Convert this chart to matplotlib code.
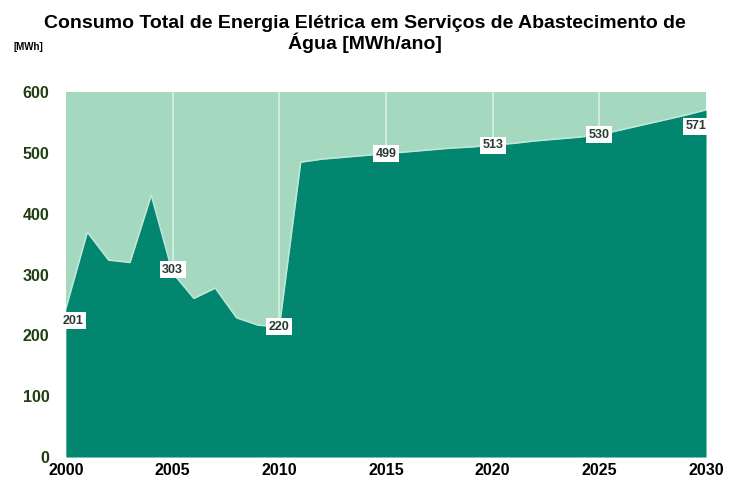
import matplotlib.pyplot as plt
import numpy as np

plt.rcParams['font.family'] = ['Liberation Sans', 'DejaVu Sans']

##########################
years = list(range(2000, 2031))
consumo = [245, 370, 324, 320, 431, 303, 261, 278, 229, 217, 214,
           485, 490, 493, 496, 499, 502, 505, 508, 510, 513,
           516, 520, 523, 526, 530, 538, 546, 554, 562, 571]
label_years = [2000, 2005, 2010, 2015, 2020, 2025, 2030]
label_text = ['201', '303', '220', '499', '513', '530', '571']
label_offset = [(5, -9), (0, 2), (0, 0), (0, 0), (0, 0), (0, 0), (-7, -12)]
xticks = [2000, 2005, 2010, 2015, 2020, 2025, 2030]
yticks = [0, 100, 200, 300, 400, 500, 600]
#########################

dark = '#03866f'
light = '#a4d8bf'

fig = plt.figure(figsize=(7.29, 4.93), dpi=100)
ax = fig.add_axes([0.0905, 0.073, 0.878, 0.74])
ax.set_facecolor(light)
ax.set_xlim(2000, 2030)
ax.set_ylim(0, 600)

for x in xticks[1:-1]:
    ax.axvline(x, color='white', lw=1.2, alpha=0.6, zorder=1)

ax.fill_between(years, consumo, 0, color=dark, zorder=2, lw=0)
ax.plot(years, consumo, color='#bfe6d8', lw=1.2, zorder=3)

for yr, txt, off in zip(label_years, label_text, label_offset):
    v = consumo[years.index(yr)]
    ax.annotate(txt, (yr, v), xytext=off, textcoords='offset points',
                ha='center', va='center', fontsize=9, fontweight='bold',
                color='#2a3a35', zorder=5, annotation_clip=False,
                bbox=dict(boxstyle='square,pad=0.2', fc='white', ec='none'))

for s in ax.spines.values():
    s.set_visible(False)
ax.set_xticks(xticks)
ax.set_yticks(yticks)
ax.tick_params(length=0)
ax.set_xticklabels([str(x) for x in xticks], fontsize=11.5, fontweight='bold', color='black')
ax.set_yticklabels([str(y) for y in yticks], fontsize=11.5, fontweight='bold', color='#1f3d12')
ax.tick_params(axis='x', pad=4)
ax.tick_params(axis='y', pad=12)

fig.text(0.5, 0.97, 'Consumo Total de Energia Elétrica em Serviços de Abastecimento de\nÁgua [MWh/ano]',
         ha='center', va='top', fontsize=14, fontweight='bold', linespacing=1.05)
fig.text(0.018, 0.905, '[MWh]', fontsize=7, fontweight='bold', va='center')

plt.savefig('out.png', dpi=100)
